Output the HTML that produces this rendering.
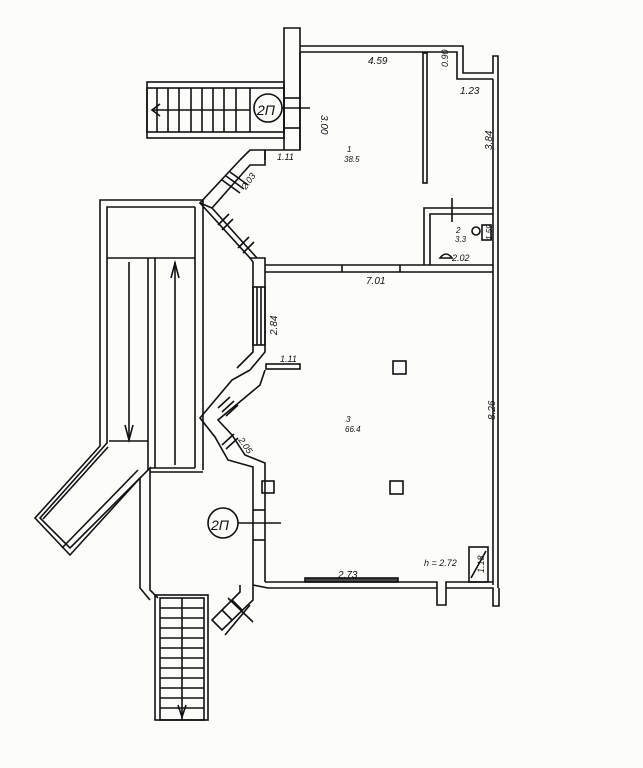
<!DOCTYPE html>
<html><head><meta charset="utf-8"><style>
html,body{margin:0;padding:0;background:#fcfcfb;}
svg{display:block}
text{font-family:"Liberation Sans",sans-serif;font-style:italic;fill:#111;}
</style></head><body>
<svg width="643" height="768" viewBox="0 0 643 768" xmlns="http://www.w3.org/2000/svg">
<rect width="643" height="768" fill="#fcfcfb"/>
<g fill="none" stroke="#111" stroke-width="1.6">
<polyline points="300,46 463,46 463,73 493,73 493,56 498,56 498,588"/>
<polyline points="300,52 457,52 457,79 493,79"/>
<line x1="493" y1="79" x2="493" y2="585"/>
<polyline points="284,150 284,28 300,28 300,150"/>
<polyline points="300,52 300,150 265,150 265,160"/>
<rect x="147" y="82" width="137" height="56"/>
<rect x="147" y="88" width="137" height="44"/>
<line x1="157" y1="88" x2="157" y2="132"/>
<line x1="168" y1="88" x2="168" y2="132"/>
<line x1="179" y1="88" x2="179" y2="132"/>
<line x1="191" y1="88" x2="191" y2="132"/>
<line x1="202" y1="88" x2="202" y2="132"/>
<line x1="213" y1="88" x2="213" y2="132"/>
<line x1="224" y1="88" x2="224" y2="132"/>
<line x1="236" y1="88" x2="236" y2="132"/>
<line x1="250" y1="88" x2="250" y2="132"/>
<line x1="152" y1="110" x2="250" y2="110"/>
<polyline points="160,104 152,110 160,116"/>
<line x1="284" y1="98" x2="300" y2="98"/>
<line x1="284" y1="128" x2="300" y2="128"/>
<circle cx="268" cy="108" r="14"/>
<line x1="282" y1="108" x2="310" y2="108"/>
<polyline points="265,150 265,165 250,165 212,208 200,203 240,160"/>
<polyline points="240,160 250,150 265,150"/>
<line x1="222" y1="180" x2="240" y2="193"/>
<line x1="226" y1="176" x2="244" y2="189"/>
<line x1="230" y1="172" x2="248" y2="185"/>
<polyline points="200,203 250,258 265,258 265,265"/>
<polyline points="212,208 257,258"/>
<line x1="218" y1="225" x2="229" y2="214"/>
<line x1="243" y1="253" x2="254" y2="242"/>
<line x1="222" y1="230" x2="233" y2="219"/>
<line x1="238" y1="248" x2="249" y2="237"/>
<polyline points="250,258 253,262 253,352 237,368"/>
<polyline points="265,265 265,352 250,370"/>
<rect x="253" y="287" width="12" height="58"/>
<line x1="257" y1="287" x2="257" y2="345"/>
<line x1="261" y1="287" x2="261" y2="345"/>
<polyline points="265,265 493,265"/>
<polyline points="265,272 493,272"/>
<line x1="342" y1="265" x2="342" y2="272"/>
<line x1="400" y1="265" x2="400" y2="272"/>
<rect x="423" y="53" width="4" height="130"/>
<polyline points="424,265 424,208 493,208"/>
<polyline points="430,265 430,214 493,214"/>
<line x1="452" y1="198" x2="452" y2="222"/>
<circle cx="476" cy="231" r="4"/>
<rect x="482" y="225" width="9" height="15"/>
<path d="M440,258 q6,-8 12,0 z"/>
<rect x="266" y="364" width="34" height="5"/>
<polyline points="250,370 232,380 200,418 215,437 228,460 253,467 253,585 268,588"/>
<polyline points="265,370 260,385 218,420 232,435 245,455 265,463 265,582"/>
<line x1="218" y1="408" x2="230" y2="397"/>
<line x1="222" y1="412" x2="234" y2="401"/>
<line x1="226" y1="416" x2="238" y2="405"/>
<line x1="222" y1="445" x2="234" y2="434"/>
<line x1="226" y1="449" x2="238" y2="438"/>
<rect x="262" y="481" width="12" height="12"/>
<line x1="253" y1="510" x2="265" y2="510"/>
<line x1="253" y1="540" x2="265" y2="540"/>
<circle cx="223" cy="523" r="15"/>
<line x1="238" y1="523" x2="281" y2="523"/>
<polyline points="265,582 437,582 437,605 446,605 446,582 493,582"/>
<polyline points="268,588 437,588"/>
<polyline points="446,588 493,588 493,606 499,606 499,588"/>
<rect x="305" y="578" width="93" height="4" fill="#444"/>
<rect x="469" y="547" width="19" height="35"/>
<line x1="471" y1="578" x2="486" y2="551"/>
<rect x="393" y="361" width="13" height="13"/>
<rect x="390" y="481" width="13" height="13"/>
<polyline points="203,200 100,200 100,446 35,518 70,555 140,478 140,588 150,600"/>
<polyline points="195,207 107,207 107,443 40,518 70,548 150,468 150,472"/>
<line x1="107" y1="258" x2="195" y2="258"/>
<line x1="195" y1="207" x2="195" y2="468"/>
<line x1="203" y1="200" x2="203" y2="470"/>
<line x1="150" y1="472" x2="203" y2="472"/>
<line x1="150" y1="468" x2="195" y2="468"/>
<line x1="148" y1="258" x2="148" y2="470"/>
<line x1="155" y1="258" x2="155" y2="468"/>
<line x1="109" y1="441" x2="148" y2="441"/>
<line x1="129" y1="262" x2="129" y2="440"/>
<polyline points="125,425 129,440 133,425"/>
<line x1="175" y1="262" x2="175" y2="465"/>
<polyline points="171,278 175,263 179,278"/>
<line x1="43" y1="519" x2="108" y2="447"/>
<line x1="62" y1="548" x2="138" y2="470"/>
<polyline points="150,472 150,590 158,598"/>
<polyline points="253,585 253,600 222,630 212,620 240,592 240,585"/>
<line x1="222" y1="610" x2="232" y2="620"/>
<line x1="232" y1="600" x2="242" y2="610"/>
<line x1="228" y1="598" x2="253" y2="622"/>
<line x1="225" y1="635" x2="250" y2="605"/>
<rect x="155" y="595" width="53" height="125"/>
<rect x="160" y="598" width="44" height="122"/>
<line x1="182" y1="598" x2="182" y2="720"/>
<g>
<line x1="160" y1="608" x2="204" y2="608"/><line x1="160" y1="618" x2="204" y2="618"/>
<line x1="160" y1="628" x2="204" y2="628"/><line x1="160" y1="638" x2="204" y2="638"/>
<line x1="160" y1="648" x2="204" y2="648"/><line x1="160" y1="658" x2="204" y2="658"/>
<line x1="160" y1="668" x2="204" y2="668"/><line x1="160" y1="678" x2="204" y2="678"/>
<line x1="160" y1="688" x2="204" y2="688"/><line x1="160" y1="698" x2="204" y2="698"/>
<line x1="160" y1="708" x2="204" y2="708"/>
</g>
<polyline points="178,705 182,717 186,705"/>
</g>
<g font-size="10">
<text x="368" y="64">4.59</text>
<text x="460" y="94">1.23</text>
<text x="277" y="160" font-size="9">1.11</text>
<text x="366" y="284">7.01</text>
<text x="280" y="362" font-size="9">1.11</text>
<text x="338" y="578">2.73</text>
<text x="424" y="566" font-size="9">h = 2.72</text>
<text x="452" y="261" font-size="9">2.02</text>
<text x="347" y="152" font-size="8">1</text>
<text x="344" y="162" font-size="8">38.5</text>
<text x="346" y="422" font-size="8">3</text>
<text x="345" y="432" font-size="8">66.4</text>
<text x="456" y="233" font-size="8">2</text>
<text x="455" y="242" font-size="8">3.3</text>
<text x="257" y="115" font-size="14">2П</text>
<text x="211" y="530" font-size="14">2П</text>
<text transform="translate(448,67) rotate(-90)" font-size="9">0.90</text>
<text transform="translate(321,115) rotate(90)" font-size="10">3.00</text>
<text transform="translate(492,150) rotate(-90)">3.84</text>
<text transform="translate(492,240) rotate(-90)" font-size="8">1.59</text>
<text transform="translate(246,190) rotate(-55)" font-size="9">2.03</text>
<text transform="translate(277,335) rotate(-90)">2.84</text>
<text transform="translate(238,440) rotate(55)" font-size="9">2.05</text>
<text transform="translate(495,420) rotate(-90)">8.26</text>
<text transform="translate(484,573) rotate(-90)" font-size="9">1.18</text>
</g>
</svg>
</body></html>
